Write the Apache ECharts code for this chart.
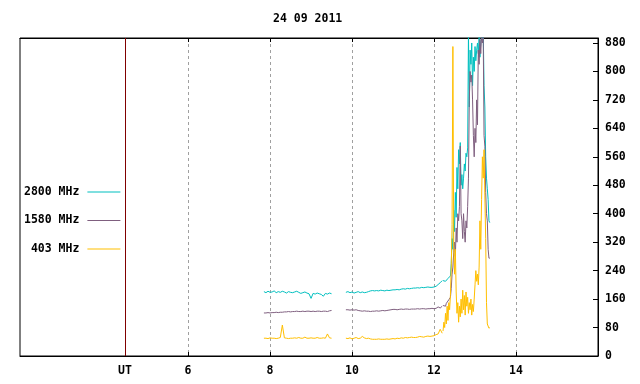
<!DOCTYPE html>
<html><head><meta charset="utf-8">
<script src="https://cdn.jsdelivr.net/npm/echarts@6/dist/echarts.min.js"></script>
<style>html,body{margin:0;padding:0;background:#fff}#c{width:640px;height:384px}</style>
</head><body><div id="c"></div>
<script>
// ---- data ----
const titleText = '24 09 2011';
const seriesNames = ['2800 MHz', '1580 MHz', '403 MHz'];
const seriesColors = ['#00bfbf', '#7f5f7f', '#ffbf00'];
const xTickValues = [6, 8, 10, 12, 14];
const utHour = 4.46;
const utLabel = 'UT';
const xMin = 1.9, xMax = 16.0;
const yMax = 894, yInterval = 80;

// time segments in UT hours: [start, step, count]
const timeSegments = [[7.85, 0.05, 34], [9.85, 0.05, 48], [12.22, 0.02, 58]];

const v2800A = [181,178,182,179,180,183,178,181,179,182,180,177,181,179,178,180,182,179,176,178,180,177,175,162,176,174,177,175,173,168,176,174,177,175];
const v2800B = [179,181,178,180,177,179,181,178,180,178,179,181,183,184,183,184,183,185,184,183,185,184,185,186,186,187,186,188,189,188,190,189,190,191,191,192,191,193,192,193,194,193,193,194,196,201,206,212];
const v2800C = [212,208,214,210,215,212,218,216,220,225,260,330,300,410,350,460,390,530,470,580,540,600,480,510,470,500,540,520,570,560,585,905,700,860,820,880,760,840,800,870,830,860,880,850,900,840,880,900,890,920,760,700,560,500,470,440,380,375];

const v1580A = [121,121,122,121,122,122,123,122,123,123,124,124,125,124,125,125,126,125,125,126,125,126,126,125,126,125,126,126,125,126,126,125,127,128];
const v1580B = [130,130,129,130,129,130,128,127,126,127,126,126,125,126,126,127,126,127,128,127,128,129,130,131,131,130,131,132,131,132,132,131,132,132,132,133,132,133,133,132,133,133,134,133,134,138,135,140];
const v1580C = [142,138,145,140,148,152,150,158,155,165,190,230,250,290,320,280,360,320,400,380,420,590,400,380,330,400,350,320,380,360,420,500,718,800,770,790,720,620,560,640,600,720,650,860,820,890,850,900,880,900,620,590,460,400,380,300,275,275];

const v403A = [50,50,49,51,50,50,49,50,52,87,51,50,49,50,50,51,50,52,50,50,53,50,50,51,50,50,52,50,50,51,50,62,51,50];
const v403B = [50,49,51,48,50,52,49,50,55,51,49,50,48,47,47,47,48,47,47,47,48,47,48,49,48,50,49,51,50,52,51,52,53,52,52,53,55,54,53,55,56,55,56,57,60,62,75,64];
const v403C = [70,95,80,120,90,140,100,150,130,170,250,370,870,320,230,300,180,120,150,95,140,110,160,120,185,130,170,115,180,140,165,120,150,130,160,115,145,125,160,200,240,210,230,200,250,380,300,440,560,500,580,450,330,150,90,85,78,80];

const seriesValues = [[v2800A, v2800B, v2800C], [v1580A, v1580B, v1580C], [v403A, v403B, v403C]];

// ---- build ----
function buildData(segs) {
  const out = [];
  timeSegments.forEach((ts, si) => {
    const [start, step, n] = ts;
    const vals = segs[si];
    for (let i = 0; i < n; i++) out.push([+(start + i * step).toFixed(3), vals[i]]);
    if (si < timeSegments.length - 1) out.push([+(start + n * step).toFixed(3), null]);
  });
  return out;
}

const FONT = 'DejaVu Sans Mono';
const txt = { fontFamily: FONT, fontSize: 11.5, fontWeight: 'bold', color: '#000' };

const series = seriesNames.map((name, k) => ({
  name, type: 'line', data: buildData(seriesValues[k]),
  showSymbol: false, symbol: 'none', connectNulls: false,
  lineStyle: { width: 1, color: seriesColors[k] }, itemStyle: { color: seriesColors[k] },
  xAxisIndex: 0, yAxisIndex: 0, clip: true
}));
series[0].markLine = {
  silent: true, symbol: 'none', label: { show: false }, animation: false,
  lineStyle: { color: '#800000', type: 'solid', width: 1 },
  data: [{ xAxis: utHour }]
};

const chart = echarts.init(document.getElementById('c'), null, { renderer: 'canvas' });
chart.setOption({
  animation: false,
  backgroundColor: '#fff',
  title: { text: titleText, left: 268, top: 8, textStyle: txt },
  grid: { left: 20, right: 42, top: 38, bottom: 28, show: true, borderColor: '#000', borderWidth: 1, backgroundColor: 'transparent' },
  legend: {
    data: seriesNames, orient: 'vertical', left: 19, top: 180, align: 'right',
    icon: 'rect', itemWidth: 33, itemHeight: 1, itemGap: 14.5,
    textStyle: Object.assign({ padding: [0, 3, 0, 0], lineHeight: 14 }, txt),
    formatter: n => n.padStart(8, ' ')
  },
  xAxis: [
    {
      type: 'value', min: xMin, max: xMax, position: 'bottom',
      axisLine: { show: true, onZero: false, lineStyle: { color: '#000', width: 1 } },
      axisTick: { show: true, inside: true, length: 4, customValues: xTickValues, lineStyle: { color: '#000' } },
      axisLabel: Object.assign({
        customValues: [utHour].concat(xTickValues), margin: 9,
        formatter: v => Math.abs(v - utHour) < 1e-6 ? utLabel : String(v)
      }, txt),
      splitLine: { show: true, lineStyle: { color: '#a0a0a0', type: [3, 3], width: 1 } }
    },
    {
      type: 'value', min: xMin, max: xMax, position: 'top',
      axisLine: { show: true, onZero: false, lineStyle: { color: '#000' } },
      axisTick: { show: true, inside: true, length: 4, customValues: xTickValues, lineStyle: { color: '#000' } },
      axisLabel: { show: false }, splitLine: { show: false }
    }
  ],
  yAxis: {
    type: 'value', position: 'right', min: 0, max: yMax, interval: yInterval,
    axisLine: { show: true, lineStyle: { color: '#000' } },
    axisTick: { show: true, inside: true, length: 5, lineStyle: { color: '#000' } },
    axisLabel: Object.assign({ margin: 7, formatter: v => (v % yInterval === 0 ? String(v) : '') }, txt),
    splitLine: { show: false }
  },
  series
});
</script></body></html>
